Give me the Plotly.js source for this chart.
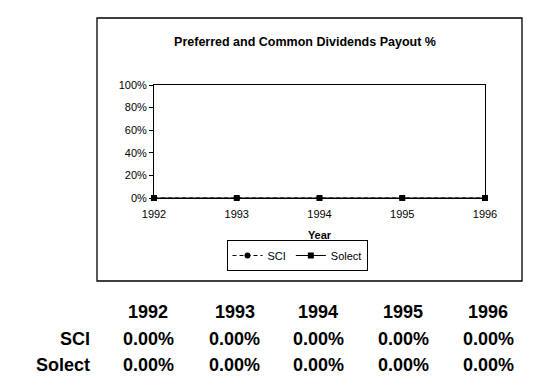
<!DOCTYPE html>
<html>
<head>
<meta charset="utf-8">
<script src="https://cdn.plot.ly/plotly-3.0.1.min.js"></script>
<style>
html,body{margin:0;padding:0;background:#fff;}
#chart{width:538px;height:379px;}
</style>
</head>
<body>
<div id="chart"></div>
<script>
// ---- data ----
var years = [1992, 1993, 1994, 1995, 1996];
var sciValues = [0, 0, 0, 0, 0];
var solectValues = [0, 0, 0, 0, 0];
var seriesNames = ['SCI', 'Solect'];
var yTickVals = [0, 0.2, 0.4, 0.6, 0.8, 1.0];

// ---- layout constants (pixels) ----
var W = 538, H = 379;
var plotL = 154, plotR = 485, plotT = 85, plotB = 198;
var pw = plotR - plotL, ph = plotB - plotT;
function px2x(px){ return (px - plotL) / pw; }
function py2y(py){ return (plotB - py) / ph; }

var FONT = 'Arial, "Liberation Sans", sans-serif';
var colCenters = [148, 234.5, 318, 403, 488];
var rowCenters = [312, 338.5, 365];
var rowLabelRight = 92;

var traces = [
  {
    x: years, y: sciValues, name: seriesNames[0], type: 'scatter', mode: 'lines+markers',
    line: {color: '#000', width: 1, dash: '4px,3px'},
    marker: {symbol: 'circle', size: 6, color: '#000'},
    cliponaxis: false
  },
  {
    x: years, y: solectValues, name: seriesNames[1], type: 'scatter', mode: 'lines+markers',
    line: {color: '#000', width: 1},
    marker: {symbol: 'square', size: 6, color: '#000'},
    cliponaxis: false
  }
];

function fmtPct(v){ return (v * 100).toFixed(2) + '%'; }

var annotations = [];
var tableFont = {family: FONT, size: 18, color: '#000', weight: 'bold'};
years.forEach(function(yr, i){
  annotations.push({xref:'paper', yref:'paper', x: px2x(colCenters[i]), y: py2y(rowCenters[0]),
    text: '<b>' + yr + '</b>', showarrow:false, xanchor:'center', yanchor:'middle', font: tableFont});
});
[sciValues, solectValues].forEach(function(arr, r){
  annotations.push({xref:'paper', yref:'paper', x: px2x(rowLabelRight), y: py2y(rowCenters[r+1]),
    text: '<b>' + seriesNames[r] + '</b>', showarrow:false, xanchor:'right', yanchor:'middle', font: tableFont});
  arr.forEach(function(v, i){
    annotations.push({xref:'paper', yref:'paper', x: px2x(colCenters[i]), y: py2y(rowCenters[r+1]),
      text: '<b>' + fmtPct(v) + '</b>', showarrow:false, xanchor:'center', yanchor:'middle', font: tableFont});
  });
});

var layout = {
  width: W, height: H,
  margin: {l: plotL, r: W - plotR, t: plotT, b: H - plotB, pad: 0},
  paper_bgcolor: '#fff', plot_bgcolor: '#fff',
  font: {family: FONT, size: 11, color: '#000'},
  title: {
    text: '<b>Preferred and Common Dividends Payout %</b>',
    font: {family: FONT, size: 12.5, color: '#000'},
    xref: 'container', yref: 'container', x: 305 / W, y: 1 - 42 / H,
    xanchor: 'center', yanchor: 'middle'
  },
  xaxis: {
    range: [1992, 1996], tickvals: years, ticktext: years.map(String),
    showgrid: false, zeroline: false, showline: true, mirror: true,
    linecolor: '#000', linewidth: 1, ticks: '', ticklabelstandoff: 6,
    tickfont: {family: FONT, size: 11, color: '#000'},
    title: {text: '<b>Year</b>', font: {family: FONT, size: 11, color: '#000'}, standoff: 12}
  },
  yaxis: {
    range: [0, 1], tickvals: yTickVals, tickformat: '.0%',
    showgrid: false, zeroline: false, showline: true, mirror: true,
    linecolor: '#000', linewidth: 1, ticks: 'outside', ticklen: 4, tickcolor: '#000',
    tickfont: {family: FONT, size: 11, color: '#000'}
  },
  showlegend: true,
  legend: {
    orientation: 'h', x: px2x(297), xanchor: 'center', y: py2y(240), yanchor: 'top',
    bordercolor: '#000', borderwidth: 1, bgcolor: '#fff',
    font: {family: FONT, size: 11, color: '#000'},
    itemwidth: 30, tracegroupgap: 0
  },
  shapes: [{
    type: 'rect', xref: 'paper', yref: 'paper',
    x0: px2x(97), x1: px2x(522), y0: py2y(281), y1: py2y(18),
    line: {color: '#000', width: 1.3}, fillcolor: 'rgba(0,0,0,0)', layer: 'below'
  }],
  annotations: annotations
};

Plotly.newPlot('chart', traces, layout, {displayModeBar: false, staticPlot: true});
</script>
</body>
</html>
